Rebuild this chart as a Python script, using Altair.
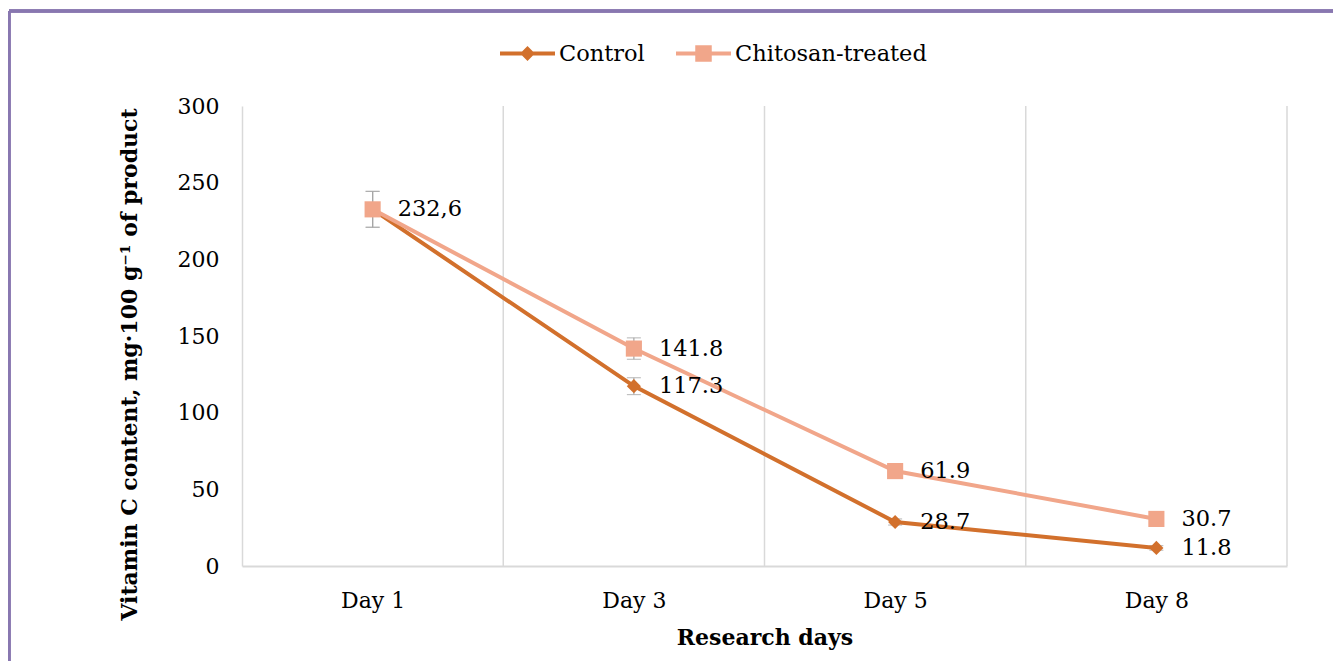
import altair as alt
import pandas as pd

days = ["Day 1", "Day 3", "Day 5", "Day 8"]
series = ["Control", "Chitosan-treated"]
control = [232.6, 117.3, 28.7, 11.8]
chitosan = [232.6, 141.8, 61.9, 30.7]
control_err = [11.7, 5.5, 2.0, 1.5]
chitosan_err = [11.7, 7.0, 3.0, 2.0]
control_labels = ["", "117.3", "28.7", "11.8"]
chitosan_labels = ["232,6", "141.8", "61.9", "30.7"]
colors = ["#D2702C", "#F1A68A"]
marker_shapes = ["diamond", "square"]
marker_sizes = [200, 260]

FONT = "DejaVu Serif"

rows = []
for s, vals, errs, labs in [
    (series[0], control, control_err, control_labels),
    (series[1], chitosan, chitosan_err, chitosan_labels),
]:
    for i, d in enumerate(days):
        rows.append({"series": s, "day": d, "idx": i, "value": vals[i],
                     "lo": vals[i] - errs[i], "hi": vals[i] + errs[i], "label": labs[i]})
df = pd.DataFrame(rows)
grid_df = pd.DataFrame({"b": [i + 0.5 for i in range(len(days))]})

label_expr = "[" + ",".join("'%s'" % d for d in days) + "][datum.value]"
x_enc = alt.X("idx:Q", scale=alt.Scale(domain=[-0.5, len(days) - 0.5], nice=False, zero=False),
              axis=alt.Axis(values=list(range(len(days))), labelExpr=label_expr, grid=False, ticks=False,
                            domainColor="#d9d9d9", domainWidth=2, labelFont=FONT, labelFontSize=22,
                            labelColor="#000", labelPadding=24, title="Research days",
                            titleFont=FONT, titleFontWeight="bold", titleFontSize=22,
                            titleColor="#000", titlePadding=16))
y_scale = alt.Scale(domain=[0, 300], nice=False)
y_enc = alt.Y("value:Q", scale=y_scale,
              axis=alt.Axis(values=list(range(0, 301, 50)), grid=False, ticks=False,
                            domainColor="#d9d9d9", domainWidth=1.5, labelFont=FONT, labelFontSize=22,
                            labelColor="#000", labelPadding=23,
                            title="Vitamin C content, mg·100 g⁻¹ of product",
                            titleFont=FONT, titleFontWeight="bold", titleFontSize=22,
                            titleColor="#000", titlePadding=36, titleY=258))

base = alt.Chart(df)

grid = alt.Chart(grid_df).mark_rule(color="#d9d9d9", strokeWidth=1.5).encode(
    x=alt.X("b:Q"), y=alt.datum(0), y2=alt.datum(300))

layers = [grid]
for k, s in enumerate(series):
    sub = base.transform_filter(alt.datum.series == s)
    layers.append(sub.mark_rule(color="#a6a6a6", strokeWidth=1.2).encode(
        x="idx:Q", y=alt.Y("lo:Q", scale=y_scale), y2="hi:Q"))
    layers.append(sub.mark_tick(color="#a6a6a6", thickness=1.2, size=14, orient="horizontal").encode(
        x="idx:Q", y=alt.Y("lo:Q", scale=y_scale)))
    layers.append(sub.mark_tick(color="#a6a6a6", thickness=1.2, size=14, orient="horizontal").encode(
        x="idx:Q", y=alt.Y("hi:Q", scale=y_scale)))
for k, s in enumerate(series):
    sub = base.transform_filter(alt.datum.series == s)
    layers.append(sub.mark_line(color=colors[k], strokeWidth=4).encode(x=x_enc, y=y_enc))
    layers.append(sub.mark_point(shape=marker_shapes[k], filled=True, opacity=1, color=colors[k],
                                 size=marker_sizes[k]).encode(x="idx:Q", y="value:Q"))
for k, s in enumerate(series):
    sub = base.transform_filter(alt.datum.series == s)
    layers.append(sub.mark_text(align="left", baseline="middle", dx=25, font=FONT, fontSize=22.5,
                                color="#000").encode(x="idx:Q", y="value:Q", text="label:N"))

# legend layer (no marks drawn, legend from explicit domain)
leg_paths = [
    "M-1,-0.075H1V0.075H-1Z M0,-0.27L0.27,0L0,0.27L-0.27,0Z",
    "M-1,-0.075H1V0.075H-1Z M-0.3,-0.3H0.3V0.3H-0.3Z",
]
legend_layer = base.transform_filter("false").mark_point(filled=True, opacity=1).encode(
    x="idx:Q", y="value:Q",
    color=alt.Color("series:N", scale=alt.Scale(domain=series, range=colors),
                    legend=alt.Legend(orient="none", legendX=258, legendY=-80, direction="horizontal",
                                      title=None, symbolSize=3025, symbolOpacity=1, symbolStrokeWidth=0,
                                      labelFont=FONT, labelFontSize=22.5, labelColor="#000",
                                      labelLimit=500, labelOffset=4, columnPadding=31)),
    shape=alt.Shape("series:N", scale=alt.Scale(domain=series, range=leg_paths)),
)
layers.append(legend_layer)

# frame
layers.append(alt.Chart(grid_df).mark_rule(color="#8877B0", strokeWidth=3).encode(
    x=alt.value(-233), x2=alt.value(1120), y=alt.value(-95)))
layers.append(alt.Chart(grid_df).mark_rule(color="#8877B0", strokeWidth=3).encode(
    x=alt.value(-233), y=alt.value(-95), y2=alt.value(600)))

chart = alt.layer(*layers).properties(
    width=1045, height=460,
    background="white",
    autosize=alt.AutoSizeParams(type="none"),
    padding={"left": 234, "top": 98, "right": 46, "bottom": 95},
).configure_view(strokeWidth=0, stroke="transparent")

chart.save("out.html", embed_options={"renderer": "svg", "actions": False})
